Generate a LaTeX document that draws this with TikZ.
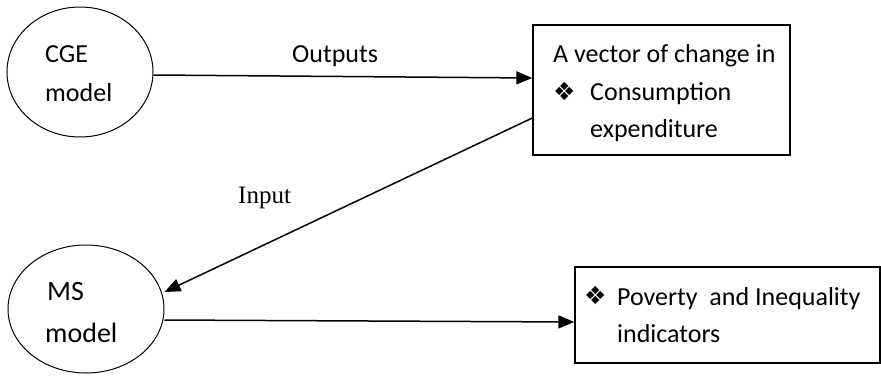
\documentclass[tikz,border=0pt]{standalone}
\usepackage{fontspec}
\setmainfont{Carlito}
\newfontfamily\dejavu{DejaVu Sans}
\newfontfamily\timesf{Liberation Serif}
\usetikzlibrary{arrows.meta,shapes.geometric}
\begin{document}
\begin{tikzpicture}[x=1pt,y=-1pt,
 oval/.style={draw,ellipse,line width=1pt,inner sep=0pt},
 boxn/.style={draw,rectangle,line width=1.4pt,inner sep=0pt},
 conn/.style={-{Triangle[length=16pt,width=13pt]},line width=1.5pt},
 lbl/.style={anchor=base west,inner sep=0pt,font=\fontsize{26}{30}\selectfont},
 lblb/.style={anchor=base west,inner sep=0pt,font=\fontsize{28}{32}\selectfont},
 bul/.style={anchor=base west,inner sep=0pt,font=\dejavu\fontsize{25}{28}\selectfont}]
\useasboundingbox[fill=white] (0,0) rectangle (881,375);
% shapes
\node[oval,minimum width=146pt,minimum height=130pt] (cge) at (80,72) {};
\node[oval,minimum width=156pt,minimum height=128pt] (ms) at (86,309) {};
\node[boxn,minimum width=257pt,minimum height=130pt] (box1) at (661.5,90) {};
\node[boxn,minimum width=305pt,minimum height=96pt] (box2) at (727.5,315) {};
% texts
\node[lbl] (t1) at (45,62) {CGE};
\node[lbl] (t2) at (45,101) {model};
\node[lblb] (t3) at (47,300) {MS};
\node[lblb] (t4) at (45,342) {model};
\node[lbl] (t5) at (553,62) {A vector of change in};
\node[bul] (b1) at (553,100) {❖};
\node[lbl] (t6) at (590,100) {Consumption};
\node[lbl] (t7) at (590,137) {expenditure};
\node[bul] (b2) at (584,304) {❖};
\node[lbl] (t8) at (617,305) {Poverty\ \ and Inequality};
\node[lbl] (t9) at (617,342) {indicators};
\node[lbl] (l1) at (292,62) {Outputs};
\node[anchor=base west,inner sep=0pt,font=\timesf\fontsize{25}{30}\selectfont] (l2) at (238,203) {Input};
% connectors
\draw[conn] ([yshift=-3pt]cge.east) -- ([yshift=12pt]box1.west);
\draw[conn] ([yshift=-28pt]box1.west) -- ([yshift=17pt]ms.east);
\draw[conn] ([yshift=-11pt]ms.east) -- ([yshift=-7pt]box2.west);
\end{tikzpicture}
\end{document}
